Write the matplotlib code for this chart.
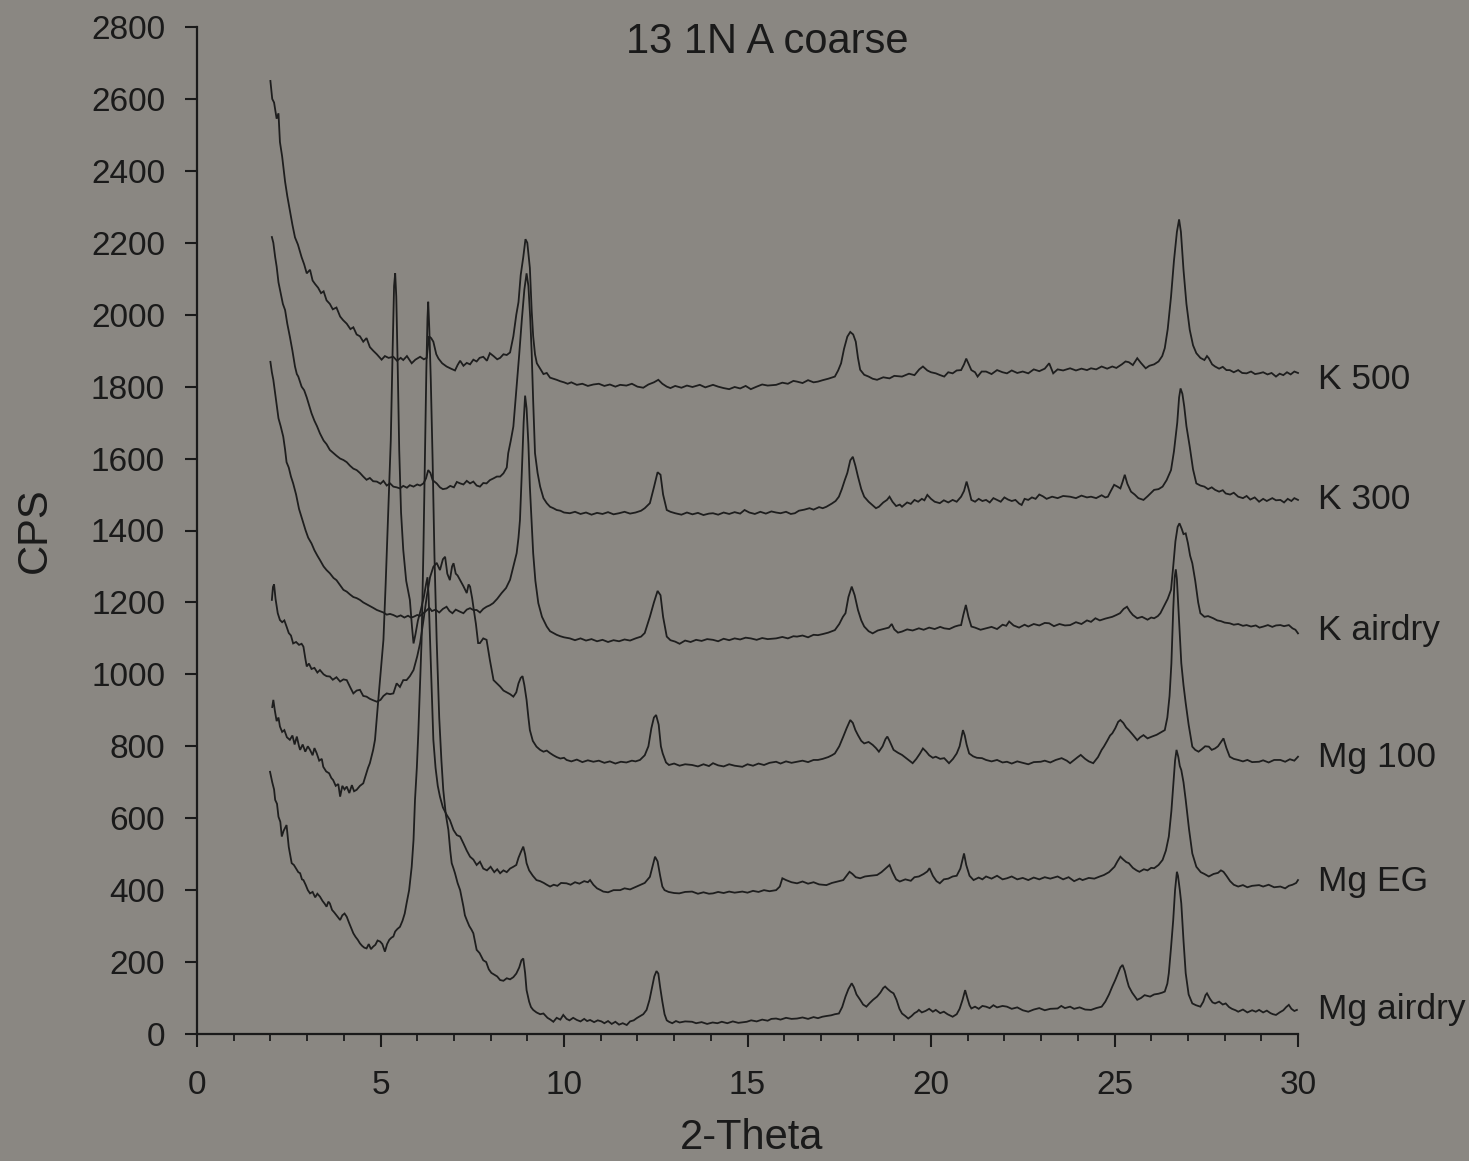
import matplotlib
matplotlib.use("Agg")
import matplotlib.pyplot as plt
from matplotlib.ticker import MultipleLocator

# XRD scans (2-Theta in degrees, intensity in counts per second)
k500 = [
    (2.00, 2650), (2.05, 2600), (2.10, 2590), (2.17, 2545), (2.22, 2560), (2.26, 2480), (2.32, 2440),
    (2.40, 2370), (2.46, 2330), (2.53, 2290), (2.60, 2250), (2.67, 2215), (2.75, 2195), (2.85, 2160),
    (2.92, 2140), (2.99, 2115), (3.08, 2125), (3.15, 2095), (3.22, 2085), (3.30, 2075), (3.38, 2060),
    (3.45, 2065), (3.53, 2040), (3.62, 2030), (3.70, 2015), (3.80, 2020), (3.90, 1995), (3.98, 1985),
    (4.08, 1975), (4.18, 1960), (4.26, 1965), (4.35, 1945), (4.44, 1940), (4.53, 1925), (4.62, 1935),
    (4.71, 1910), (4.80, 1900), (4.90, 1890), (5.03, 1875), (5.12, 1885), (5.22, 1880), (5.35, 1883),
    (5.45, 1872), (5.55, 1880), (5.62, 1874), (5.72, 1885), (5.85, 1865), (5.95, 1875), (6.08, 1883),
    (6.18, 1876), (6.26, 1880), (6.32, 1940), (6.38, 1935), (6.44, 1925), (6.52, 1890), (6.58, 1878),
    (6.68, 1865), (6.80, 1856), (6.92, 1850), (7.03, 1845), (7.10, 1860), (7.17, 1872), (7.26, 1858),
    (7.35, 1866), (7.44, 1862), (7.53, 1875), (7.62, 1870), (7.70, 1880), (7.80, 1883), (7.90, 1872),
    (7.98, 1893), (8.08, 1885), (8.18, 1876), (8.26, 1880), (8.35, 1890), (8.44, 1888), (8.53, 1895),
    (8.62, 1940), (8.70, 2000), (8.76, 2035), (8.82, 2110), (8.89, 2160), (8.95, 2210), (9.00, 2200),
    (9.07, 2130), (9.12, 2010), (9.16, 1940), (9.21, 1890), (9.26, 1865), (9.35, 1850), (9.44, 1835),
    (9.53, 1838), (9.62, 1825), (9.71, 1822), (9.80, 1819), (9.90, 1815), (10.0, 1812), (10.1, 1808),
    (10.2, 1812), (10.35, 1805), (10.5, 1808), (10.65, 1802), (10.8, 1806), (10.95, 1808), (11.1, 1802),
    (11.25, 1806), (11.4, 1800), (11.53, 1805), (11.7, 1803), (11.85, 1808), (12.0, 1800), (12.16, 1797),
    (12.3, 1806), (12.45, 1812), (12.57, 1819), (12.68, 1808), (12.8, 1800), (12.9, 1796), (13.03, 1802),
    (13.2, 1797), (13.35, 1803), (13.5, 1799), (13.7, 1805), (13.85, 1798), (14.06, 1805), (14.2, 1800),
    (14.35, 1796), (14.5, 1793), (14.65, 1799), (14.8, 1795), (14.95, 1802), (15.09, 1793), (15.25, 1800),
    (15.4, 1806), (15.55, 1803), (15.78, 1805), (15.95, 1811), (16.1, 1808), (16.25, 1816), (16.35, 1814),
    (16.5, 1810), (16.65, 1818), (16.8, 1812), (16.92, 1814), (17.05, 1818), (17.2, 1822), (17.38, 1828),
    (17.47, 1845), (17.55, 1865), (17.63, 1905), (17.72, 1939), (17.8, 1952), (17.88, 1945), (17.95, 1925),
    (18.01, 1880), (18.07, 1847), (18.18, 1833), (18.3, 1828), (18.41, 1822), (18.53, 1819), (18.7, 1826),
    (18.87, 1823), (19.0, 1830), (19.21, 1828), (19.4, 1836), (19.55, 1832), (19.68, 1848), (19.78, 1856),
    (19.9, 1845), (20.0, 1840), (20.13, 1837), (20.25, 1832), (20.36, 1828), (20.47, 1840), (20.59, 1837),
    (20.7, 1845), (20.82, 1846), (20.9, 1862), (20.96, 1878), (21.04, 1860), (21.1, 1846), (21.2, 1840),
    (21.27, 1828), (21.38, 1842), (21.5, 1842), (21.65, 1835), (21.8, 1846), (21.95, 1840), (22.07, 1837),
    (22.2, 1845), (22.35, 1838), (22.5, 1842), (22.65, 1837), (22.8, 1848), (22.95, 1843), (23.1, 1850),
    (23.22, 1865), (23.33, 1837), (23.45, 1848), (23.6, 1845), (23.79, 1851), (23.95, 1845), (24.1, 1850),
    (24.25, 1846), (24.36, 1851), (24.5, 1848), (24.65, 1856), (24.8, 1850), (24.94, 1856), (25.05, 1852),
    (25.2, 1862), (25.3, 1870), (25.39, 1868), (25.5, 1860), (25.62, 1879), (25.72, 1866), (25.85, 1851),
    (25.95, 1858), (26.08, 1862), (26.2, 1870), (26.3, 1885), (26.37, 1907), (26.45, 1960), (26.54, 2050),
    (26.62, 2150), (26.7, 2230), (26.76, 2265), (26.81, 2230), (26.88, 2125), (26.96, 2030), (27.05, 1958),
    (27.14, 1915), (27.23, 1893), (27.34, 1880), (27.45, 1874), (27.52, 1885), (27.57, 1879), (27.66, 1862),
    (27.74, 1856), (27.85, 1850), (27.95, 1855), (28.05, 1846), (28.14, 1846), (28.25, 1840), (28.37, 1846),
    (28.48, 1838), (28.6, 1837), (28.72, 1842), (28.83, 1835), (28.94, 1837), (29.05, 1840), (29.17, 1834),
    (29.28, 1838), (29.4, 1828), (29.5, 1836), (29.6, 1832), (29.7, 1840), (29.8, 1834), (29.9, 1842),
    (30.0, 1838),
]

k300 = [
    (2.04, 2216), (2.08, 2200), (2.13, 2160), (2.17, 2134), (2.22, 2090), (2.28, 2060), (2.34, 2030),
    (2.40, 2013), (2.46, 1975), (2.53, 1939), (2.60, 1900), (2.67, 1856), (2.72, 1835), (2.76, 1828),
    (2.85, 1800), (2.92, 1790), (2.99, 1770), (3.05, 1750), (3.12, 1726), (3.2, 1705), (3.27, 1690),
    (3.35, 1670), (3.45, 1650), (3.53, 1640), (3.62, 1624), (3.72, 1615), (3.8, 1608), (3.9, 1600),
    (3.99, 1596), (4.08, 1590), (4.17, 1580), (4.26, 1572), (4.35, 1568), (4.44, 1560), (4.53, 1550),
    (4.62, 1541), (4.71, 1546), (4.8, 1537), (4.9, 1536), (5.0, 1530), (5.08, 1538), (5.17, 1525),
    (5.26, 1531), (5.35, 1522), (5.44, 1520), (5.53, 1517), (5.62, 1524), (5.72, 1519), (5.8, 1526),
    (5.9, 1522), (6.0, 1528), (6.08, 1525), (6.17, 1531), (6.24, 1545), (6.3, 1568), (6.36, 1560),
    (6.42, 1540), (6.53, 1531), (6.62, 1520), (6.7, 1515), (6.8, 1517), (6.9, 1524), (7.0, 1520),
    (7.08, 1535), (7.17, 1531), (7.26, 1528), (7.35, 1538), (7.44, 1531), (7.53, 1536), (7.62, 1525),
    (7.71, 1522), (7.8, 1532), (7.89, 1531), (7.98, 1540), (8.08, 1545), (8.17, 1550), (8.26, 1550),
    (8.35, 1559), (8.44, 1575), (8.48, 1615), (8.55, 1650), (8.62, 1689), (8.71, 1800), (8.78, 1890),
    (8.85, 1985), (8.92, 2070), (8.98, 2115), (9.03, 2080), (9.08, 1990), (9.12, 1893), (9.16, 1760),
    (9.21, 1615), (9.28, 1560), (9.35, 1522), (9.44, 1490), (9.53, 1476), (9.62, 1466), (9.71, 1462),
    (9.8, 1457), (9.9, 1455), (10.0, 1450), (10.16, 1448), (10.3, 1452), (10.45, 1446), (10.6, 1450),
    (10.75, 1444), (10.9, 1449), (11.05, 1446), (11.2, 1451), (11.35, 1445), (11.5, 1448), (11.65, 1452),
    (11.8, 1447), (11.95, 1450), (12.1, 1455), (12.2, 1462), (12.34, 1476), (12.45, 1520), (12.55, 1562),
    (12.63, 1555), (12.7, 1500), (12.8, 1457), (12.9, 1452), (13.03, 1448), (13.2, 1444), (13.35, 1450),
    (13.5, 1445), (13.65, 1449), (13.8, 1443), (13.95, 1447), (14.06, 1448), (14.2, 1444), (14.35, 1450),
    (14.5, 1446), (14.65, 1451), (14.8, 1447), (14.92, 1457), (15.05, 1450), (15.2, 1446), (15.35, 1452),
    (15.5, 1447), (15.65, 1453), (15.78, 1450), (15.9, 1448), (16.05, 1452), (16.18, 1446), (16.29, 1448),
    (16.4, 1455), (16.55, 1458), (16.69, 1462), (16.8, 1458), (16.95, 1465), (17.05, 1462), (17.15, 1466),
    (17.3, 1475), (17.4, 1482), (17.49, 1494), (17.57, 1515), (17.65, 1540), (17.72, 1560), (17.8, 1595),
    (17.87, 1605), (17.94, 1580), (18.01, 1550), (18.1, 1515), (18.18, 1494), (18.3, 1480), (18.41, 1470),
    (18.5, 1462), (18.58, 1466), (18.7, 1478), (18.8, 1485), (18.87, 1494), (18.95, 1480), (19.05, 1468),
    (19.15, 1472), (19.21, 1466), (19.35, 1478), (19.45, 1474), (19.55, 1485), (19.65, 1480), (19.75, 1488),
    (19.82, 1484), (19.9, 1499), (20.0, 1488), (20.1, 1480), (20.24, 1476), (20.35, 1484), (20.47, 1478),
    (20.59, 1485), (20.7, 1480), (20.82, 1494), (20.9, 1510), (20.97, 1536), (21.04, 1510), (21.1, 1485),
    (21.2, 1480), (21.3, 1488), (21.4, 1482), (21.5, 1485), (21.6, 1478), (21.7, 1490), (21.8, 1485),
    (21.9, 1480), (22.0, 1492), (22.1, 1486), (22.2, 1482), (22.3, 1485), (22.4, 1475), (22.47, 1471),
    (22.55, 1488), (22.65, 1485), (22.75, 1492), (22.85, 1488), (22.95, 1500), (23.05, 1495), (23.15, 1488),
    (23.3, 1494), (23.45, 1490), (23.6, 1496), (23.79, 1494), (23.95, 1490), (24.1, 1497), (24.25, 1492),
    (24.36, 1494), (24.5, 1490), (24.65, 1498), (24.75, 1492), (24.82, 1494), (24.9, 1510), (24.99, 1527),
    (25.08, 1522), (25.16, 1517), (25.22, 1535), (25.28, 1555), (25.35, 1530), (25.45, 1508), (25.55, 1500),
    (25.65, 1490), (25.79, 1485), (25.9, 1495), (26.0, 1505), (26.08, 1513), (26.2, 1515), (26.31, 1522),
    (26.42, 1540), (26.54, 1568), (26.62, 1620), (26.71, 1700), (26.76, 1770), (26.8, 1795), (26.85, 1780),
    (26.9, 1745), (26.96, 1690), (27.05, 1633), (27.14, 1570), (27.23, 1531), (27.34, 1525), (27.45, 1522),
    (27.55, 1515), (27.65, 1520), (27.74, 1513), (27.85, 1508), (27.95, 1512), (28.03, 1503), (28.15, 1500),
    (28.25, 1505), (28.37, 1494), (28.5, 1490), (28.6, 1496), (28.7, 1486), (28.82, 1492), (28.94, 1480),
    (29.05, 1488), (29.15, 1482), (29.3, 1490), (29.4, 1484), (29.52, 1485), (29.62, 1478), (29.72, 1488),
    (29.82, 1482), (29.9, 1490), (30.0, 1485),
]

k_airdry = [
    (2.00, 1869), (2.04, 1840), (2.08, 1819), (2.13, 1780), (2.18, 1740), (2.22, 1712), (2.28, 1690),
    (2.35, 1661), (2.40, 1625), (2.44, 1590), (2.5, 1575), (2.56, 1550), (2.62, 1531), (2.7, 1500),
    (2.78, 1460), (2.84, 1440), (2.9, 1420), (2.96, 1400), (3.03, 1380), (3.12, 1364), (3.2, 1345),
    (3.28, 1330), (3.35, 1318), (3.45, 1300), (3.53, 1290), (3.62, 1281), (3.72, 1268), (3.8, 1262),
    (3.9, 1248), (3.99, 1235), (4.08, 1230), (4.17, 1222), (4.26, 1215), (4.35, 1212), (4.44, 1207),
    (4.53, 1200), (4.62, 1195), (4.71, 1190), (4.8, 1185), (4.9, 1179), (5.0, 1175), (5.08, 1172),
    (5.17, 1166), (5.26, 1168), (5.35, 1165), (5.45, 1160), (5.55, 1164), (5.65, 1158), (5.75, 1163),
    (5.83, 1158), (5.9, 1160), (6.0, 1165), (6.08, 1163), (6.17, 1170), (6.26, 1178), (6.33, 1185),
    (6.4, 1176), (6.5, 1180), (6.6, 1172), (6.7, 1182), (6.8, 1188), (6.88, 1176), (6.96, 1170),
    (7.05, 1180), (7.17, 1174), (7.26, 1170), (7.35, 1180), (7.44, 1184), (7.53, 1179), (7.62, 1179),
    (7.71, 1172), (7.8, 1182), (7.89, 1188), (7.98, 1192), (8.07, 1198), (8.18, 1210), (8.3, 1226),
    (8.42, 1240), (8.53, 1263), (8.62, 1300), (8.71, 1337), (8.76, 1380), (8.8, 1429), (8.85, 1560),
    (8.9, 1700), (8.94, 1775), (8.98, 1740), (9.03, 1640), (9.07, 1522), (9.12, 1420), (9.16, 1337),
    (9.22, 1260), (9.3, 1198), (9.4, 1160), (9.53, 1133), (9.62, 1120), (9.71, 1115), (9.8, 1110),
    (9.9, 1106), (10.0, 1103), (10.16, 1100), (10.3, 1095), (10.45, 1100), (10.6, 1094), (10.75, 1098),
    (10.9, 1092), (11.05, 1096), (11.2, 1090), (11.35, 1095), (11.5, 1092), (11.65, 1097), (11.8, 1094),
    (11.95, 1100), (12.1, 1105), (12.2, 1115), (12.34, 1160), (12.45, 1200), (12.55, 1232), (12.63, 1220),
    (12.7, 1160), (12.8, 1105), (12.9, 1095), (13.03, 1091), (13.15, 1085), (13.3, 1094), (13.45, 1090),
    (13.6, 1096), (13.75, 1093), (13.9, 1098), (14.06, 1096), (14.2, 1092), (14.35, 1099), (14.5, 1095),
    (14.65, 1100), (14.8, 1097), (14.95, 1102), (15.09, 1100), (15.25, 1096), (15.4, 1101), (15.55, 1098),
    (15.78, 1100), (15.95, 1104), (16.1, 1100), (16.25, 1106), (16.35, 1105), (16.5, 1108), (16.65, 1103),
    (16.8, 1110), (16.92, 1109), (17.05, 1112), (17.2, 1116), (17.38, 1123), (17.5, 1140), (17.6, 1160),
    (17.67, 1170), (17.75, 1215), (17.84, 1244), (17.92, 1220), (18.01, 1179), (18.1, 1150), (18.18, 1133),
    (18.3, 1120), (18.41, 1114), (18.55, 1122), (18.7, 1126), (18.85, 1130), (18.93, 1140), (19.0, 1125),
    (19.1, 1116), (19.21, 1119), (19.35, 1125), (19.5, 1122), (19.67, 1128), (19.8, 1124), (19.95, 1130),
    (20.1, 1126), (20.25, 1132), (20.36, 1128), (20.5, 1126), (20.65, 1133), (20.75, 1136), (20.82, 1137),
    (20.88, 1165), (20.95, 1193), (21.02, 1160), (21.1, 1133), (21.2, 1130), (21.35, 1124), (21.5, 1128),
    (21.65, 1132), (21.8, 1126), (21.95, 1138), (22.05, 1135), (22.13, 1147), (22.25, 1136), (22.4, 1130),
    (22.55, 1138), (22.65, 1133), (22.8, 1140), (22.95, 1136), (23.1, 1143), (23.22, 1142), (23.35, 1134),
    (23.5, 1140), (23.65, 1136), (23.79, 1137), (23.95, 1145), (24.1, 1140), (24.25, 1150), (24.36, 1146),
    (24.48, 1156), (24.6, 1150), (24.75, 1155), (24.94, 1160), (25.05, 1165), (25.15, 1170), (25.25, 1182),
    (25.34, 1188), (25.42, 1175), (25.5, 1165), (25.62, 1156), (25.75, 1160), (25.9, 1152), (26.0, 1158),
    (26.08, 1156), (26.18, 1162), (26.25, 1170), (26.35, 1190), (26.45, 1210), (26.54, 1235), (26.6, 1300),
    (26.66, 1370), (26.72, 1410), (26.77, 1420), (26.83, 1405), (26.88, 1390), (26.94, 1392), (27.0, 1365),
    (27.06, 1330), (27.12, 1309), (27.2, 1260), (27.28, 1200), (27.34, 1170), (27.45, 1160), (27.55, 1162),
    (27.69, 1156), (27.8, 1150), (27.9, 1148), (28.0, 1144), (28.14, 1142), (28.25, 1138), (28.37, 1140),
    (28.5, 1135), (28.6, 1137), (28.72, 1133), (28.85, 1136), (28.95, 1130), (29.06, 1133), (29.18, 1137),
    (29.3, 1132), (29.4, 1136), (29.52, 1137), (29.62, 1134), (29.75, 1137), (29.85, 1128), (29.93, 1124),
    (30.0, 1114),
]

mg100 = [
    (2.04, 1207), (2.07, 1243), (2.10, 1250), (2.14, 1210), (2.2, 1170), (2.26, 1151), (2.32, 1145),
    (2.38, 1150), (2.44, 1133), (2.5, 1115), (2.56, 1108), (2.62, 1086), (2.7, 1090), (2.78, 1082),
    (2.85, 1085), (2.9, 1077), (2.95, 1045), (2.99, 1022), (3.05, 1030), (3.12, 1015), (3.2, 1018),
    (3.28, 1005), (3.35, 1012), (3.45, 1000), (3.53, 995), (3.62, 994), (3.7, 985), (3.8, 992),
    (3.9, 980), (3.99, 986), (4.08, 984), (4.17, 965), (4.26, 947), (4.35, 955), (4.44, 957),
    (4.53, 940), (4.62, 938), (4.71, 932), (4.8, 928), (4.9, 924), (5.0, 929), (5.08, 940),
    (5.17, 947), (5.26, 945), (5.35, 947), (5.44, 975), (5.53, 965), (5.62, 984), (5.71, 984),
    (5.8, 995), (5.9, 1012), (6.0, 1050), (6.08, 1087), (6.17, 1150), (6.26, 1216), (6.35, 1270),
    (6.44, 1299), (6.53, 1310), (6.62, 1290), (6.7, 1320), (6.76, 1327), (6.82, 1280), (6.89, 1262),
    (6.95, 1300), (6.99, 1309), (7.05, 1280), (7.1, 1275), (7.17, 1262), (7.26, 1245), (7.35, 1226),
    (7.4, 1250), (7.44, 1244), (7.5, 1210), (7.53, 1188), (7.6, 1140), (7.66, 1087), (7.71, 1087),
    (7.8, 1100), (7.89, 1096), (7.98, 1040), (8.08, 984), (8.17, 975), (8.26, 966), (8.35, 955),
    (8.44, 950), (8.53, 945), (8.62, 938), (8.7, 950), (8.76, 975), (8.82, 990), (8.87, 995),
    (8.92, 970), (8.98, 929), (9.03, 880), (9.07, 845), (9.15, 815), (9.25, 799), (9.35, 790),
    (9.44, 785), (9.53, 788), (9.62, 781), (9.71, 775), (9.8, 770), (9.9, 766), (10.0, 768),
    (10.07, 762), (10.2, 758), (10.35, 763), (10.5, 756), (10.65, 761), (10.8, 757), (10.95, 760),
    (11.1, 754), (11.25, 758), (11.4, 752), (11.55, 757), (11.7, 755), (11.85, 760), (11.95, 758),
    (12.07, 762), (12.2, 775), (12.3, 800), (12.38, 850), (12.45, 880), (12.51, 887), (12.58, 860),
    (12.64, 800), (12.69, 780), (12.78, 755), (12.86, 748), (13.0, 752), (13.15, 746), (13.3, 750),
    (13.49, 748), (13.65, 744), (13.8, 750), (13.95, 745), (14.06, 753), (14.2, 747), (14.35, 744),
    (14.5, 750), (14.65, 746), (14.86, 743), (15.0, 750), (15.15, 746), (15.3, 752), (15.45, 748),
    (15.6, 754), (15.78, 757), (15.9, 752), (16.05, 758), (16.2, 754), (16.35, 757), (16.5, 760),
    (16.65, 756), (16.8, 762), (16.92, 762), (17.05, 765), (17.2, 770), (17.3, 775), (17.38, 780),
    (17.5, 800), (17.61, 827), (17.7, 850), (17.8, 873), (17.87, 865), (17.94, 845), (18.01, 831),
    (18.1, 815), (18.18, 808), (18.3, 812), (18.41, 804), (18.5, 795), (18.58, 785), (18.68, 800),
    (18.76, 820), (18.81, 827), (18.87, 815), (18.98, 790), (19.1, 782), (19.21, 776), (19.35, 765),
    (19.5, 753), (19.6, 765), (19.7, 780), (19.78, 794), (19.87, 785), (19.95, 775), (20.05, 768),
    (20.13, 771), (20.25, 765), (20.36, 767), (20.49, 753), (20.6, 765), (20.7, 780), (20.78, 800),
    (20.84, 830), (20.87, 845), (20.92, 830), (20.97, 805), (21.04, 780), (21.15, 772), (21.25, 768),
    (21.39, 767), (21.5, 762), (21.65, 758), (21.8, 762), (21.95, 755), (22.07, 757), (22.2, 752),
    (22.35, 758), (22.5, 754), (22.65, 750), (22.8, 756), (22.99, 757), (23.1, 760), (23.25, 755),
    (23.4, 762), (23.56, 767), (23.7, 760), (23.79, 753), (23.9, 762), (24.0, 770), (24.08, 776),
    (24.2, 765), (24.3, 758), (24.42, 753), (24.55, 770), (24.65, 790), (24.71, 799), (24.8, 815),
    (24.88, 830), (24.94, 836), (25.02, 850), (25.1, 868), (25.16, 873), (25.24, 865), (25.32, 852),
    (25.39, 845), (25.5, 832), (25.62, 817), (25.7, 825), (25.79, 831), (25.9, 822), (26.02, 827),
    (26.15, 832), (26.25, 838), (26.37, 845), (26.44, 880), (26.5, 940), (26.55, 1030), (26.6, 1180),
    (26.64, 1270), (26.67, 1292), (26.7, 1265), (26.74, 1185), (26.78, 1100), (26.82, 1031), (26.88, 970),
    (26.94, 920), (27.02, 860), (27.12, 799), (27.2, 790), (27.29, 785), (27.38, 792), (27.47, 800),
    (27.57, 799), (27.65, 790), (27.74, 794), (27.82, 800), (27.9, 812), (27.97, 822), (28.05, 795),
    (28.14, 771), (28.25, 765), (28.37, 762), (28.5, 758), (28.62, 762), (28.75, 756), (28.94, 757),
    (29.05, 761), (29.2, 755), (29.35, 762), (29.52, 762), (29.65, 757), (29.78, 764), (29.9, 760),
    (30.0, 771),
]

mg_eg = [
    (2.05, 909), (2.08, 929), (2.12, 900), (2.17, 870), (2.22, 880), (2.26, 855), (2.32, 840),
    (2.38, 845), (2.45, 825), (2.53, 818), (2.6, 830), (2.66, 805), (2.72, 827), (2.78, 800),
    (2.81, 790), (2.88, 805), (2.95, 785), (3.02, 800), (3.08, 790), (3.15, 775), (3.2, 795),
    (3.26, 781), (3.33, 760), (3.4, 765), (3.44, 743), (3.52, 730), (3.6, 725), (3.66, 712),
    (3.71, 706), (3.78, 690), (3.85, 695), (3.9, 660), (3.96, 690), (4.02, 680), (4.08, 688),
    (4.15, 670), (4.22, 692), (4.28, 675), (4.35, 679), (4.44, 690), (4.53, 697), (4.6, 720),
    (4.66, 740), (4.71, 753), (4.8, 790), (4.85, 818), (4.9, 880), (4.94, 929), (5.0, 1000),
    (5.08, 1096), (5.14, 1250), (5.2, 1420), (5.25, 1560), (5.28, 1650), (5.33, 1900), (5.37, 2080),
    (5.40, 2115), (5.43, 2050), (5.47, 1850), (5.51, 1624), (5.56, 1450), (5.62, 1346), (5.7, 1260),
    (5.8, 1207), (5.86, 1130), (5.9, 1086), (5.95, 1110), (6.02, 1150), (6.1, 1180), (6.18, 1215),
    (6.24, 1250), (6.28, 1270), (6.31, 1220), (6.35, 1096), (6.4, 940), (6.44, 818), (6.5, 740),
    (6.56, 690), (6.62, 660), (6.7, 630), (6.8, 610), (6.89, 595), (6.99, 567), (7.08, 553),
    (7.17, 549), (7.26, 530), (7.35, 510), (7.44, 493), (7.53, 485), (7.62, 470), (7.71, 479),
    (7.8, 460), (7.9, 455), (8.0, 465), (8.1, 450), (8.18, 458), (8.26, 447), (8.35, 455),
    (8.44, 450), (8.53, 460), (8.62, 465), (8.7, 470), (8.76, 490), (8.82, 505), (8.89, 521),
    (8.94, 500), (8.98, 475), (9.05, 455), (9.15, 440), (9.25, 428), (9.35, 425), (9.45, 420),
    (9.53, 415), (9.62, 410), (9.72, 415), (9.82, 412), (9.92, 420), (10.07, 419), (10.18, 415),
    (10.3, 422), (10.42, 418), (10.55, 425), (10.65, 422), (10.71, 428), (10.8, 415), (10.9, 405),
    (11.0, 400), (11.07, 396), (11.2, 394), (11.35, 400), (11.53, 400), (11.65, 405), (11.8, 402),
    (11.98, 410), (12.1, 415), (12.2, 420), (12.34, 437), (12.41, 465), (12.48, 493), (12.55, 480),
    (12.62, 440), (12.68, 410), (12.74, 400), (12.85, 395), (13.0, 392), (13.14, 391), (13.3, 395),
    (13.49, 396), (13.65, 390), (13.8, 394), (13.95, 390), (14.06, 391), (14.2, 395), (14.35, 392),
    (14.5, 396), (14.65, 393), (14.86, 396), (15.0, 393), (15.15, 398), (15.3, 395), (15.45, 400),
    (15.6, 397), (15.78, 400), (15.88, 410), (15.95, 433), (16.05, 428), (16.2, 422), (16.35, 419),
    (16.5, 424), (16.65, 418), (16.8, 422), (16.95, 416), (17.15, 414), (17.3, 420), (17.45, 424),
    (17.61, 428), (17.7, 440), (17.78, 451), (17.86, 445), (17.95, 436), (18.07, 433), (18.2, 438),
    (18.35, 440), (18.53, 442), (18.65, 450), (18.78, 462), (18.87, 470), (18.95, 450), (19.05, 430),
    (19.15, 424), (19.3, 430), (19.45, 426), (19.55, 436), (19.67, 438), (19.8, 445), (19.9, 452),
    (19.96, 461), (20.05, 440), (20.15, 425), (20.24, 419), (20.35, 430), (20.47, 432), (20.59, 438),
    (20.7, 440), (20.8, 460), (20.86, 485), (20.9, 502), (20.96, 470), (21.05, 440), (21.16, 428),
    (21.3, 435), (21.4, 430), (21.5, 438), (21.65, 432), (21.8, 440), (21.95, 430), (22.07, 433),
    (22.2, 438), (22.35, 430), (22.5, 434), (22.65, 428), (22.8, 435), (22.95, 430), (23.1, 436),
    (23.25, 432), (23.45, 438), (23.6, 430), (23.75, 436), (23.9, 425), (24.05, 432), (24.13, 428),
    (24.3, 434), (24.45, 432), (24.6, 438), (24.71, 442), (24.85, 450), (25.0, 465), (25.08, 480),
    (25.16, 493), (25.24, 485), (25.32, 478), (25.39, 475), (25.5, 462), (25.6, 455), (25.68, 451),
    (25.8, 458), (25.9, 455), (26.0, 462), (26.08, 461), (26.2, 470), (26.31, 484), (26.4, 510),
    (26.48, 549), (26.55, 620), (26.6, 688), (26.65, 760), (26.69, 790), (26.74, 770), (26.78, 745),
    (26.82, 734), (26.88, 700), (26.94, 651), (27.03, 570), (27.12, 502), (27.23, 465), (27.35, 450),
    (27.45, 445), (27.57, 438), (27.7, 445), (27.82, 448), (27.9, 455), (27.97, 451), (28.05, 440),
    (28.15, 425), (28.25, 415), (28.37, 410), (28.5, 414), (28.62, 408), (28.75, 412), (28.94, 414),
    (29.05, 410), (29.2, 415), (29.35, 408), (29.52, 410), (29.65, 405), (29.75, 412), (29.85, 415),
    (29.95, 420), (30.0, 428),
]

mg_airdry = [
    (1.99, 729), (2.05, 700), (2.1, 680), (2.13, 651), (2.18, 640), (2.22, 604), (2.27, 590),
    (2.31, 549), (2.36, 565), (2.44, 581), (2.5, 520), (2.58, 475), (2.64, 470), (2.7, 460),
    (2.76, 450), (2.81, 447), (2.86, 430), (2.9, 428), (2.96, 415), (3.02, 400), (3.08, 391),
    (3.15, 395), (3.22, 380), (3.28, 390), (3.35, 382), (3.42, 370), (3.48, 362), (3.53, 354),
    (3.58, 368), (3.62, 363), (3.68, 345), (3.74, 338), (3.8, 330), (3.86, 322), (3.9, 317),
    (3.96, 330), (4.02, 335), (4.08, 326), (4.14, 310), (4.2, 295), (4.26, 280), (4.32, 270),
    (4.38, 262), (4.44, 252), (4.5, 245), (4.56, 240), (4.62, 238), (4.68, 250), (4.74, 236),
    (4.8, 243), (4.86, 248), (4.92, 260), (4.99, 257), (5.05, 250), (5.12, 229), (5.18, 250),
    (5.24, 262), (5.3, 268), (5.35, 271), (5.4, 285), (5.46, 292), (5.53, 298), (5.6, 315),
    (5.66, 335), (5.71, 363), (5.78, 400), (5.85, 465), (5.9, 540), (5.94, 651), (5.99, 740),
    (6.03, 836), (6.08, 980), (6.12, 1096), (6.17, 1350), (6.21, 1600), (6.25, 1850), (6.28, 1990),
    (6.30, 2036), (6.33, 1960), (6.37, 1820), (6.42, 1596), (6.47, 1330), (6.53, 1096), (6.6, 880),
    (6.66, 760), (6.71, 679), (6.78, 610), (6.85, 567), (6.9, 510), (6.94, 475), (6.99, 460),
    (7.03, 447), (7.1, 420), (7.17, 400), (7.21, 380), (7.26, 354), (7.3, 330), (7.35, 317),
    (7.42, 300), (7.48, 290), (7.53, 280), (7.58, 255), (7.62, 234), (7.7, 225), (7.8, 205),
    (7.88, 200), (7.95, 180), (8.02, 170), (8.1, 165), (8.18, 160), (8.26, 150), (8.35, 148),
    (8.44, 155), (8.53, 152), (8.62, 158), (8.7, 168), (8.78, 185), (8.84, 205), (8.89, 210),
    (8.94, 170), (8.98, 122), (9.05, 90), (9.1, 75), (9.16, 67), (9.25, 60), (9.35, 55),
    (9.44, 57), (9.55, 45), (9.63, 40), (9.71, 34), (9.8, 45), (9.9, 40), (9.98, 53),
    (10.07, 42), (10.15, 38), (10.25, 45), (10.35, 39), (10.45, 35), (10.55, 42), (10.63, 36),
    (10.71, 39), (10.82, 33), (10.92, 38), (11.02, 35), (11.1, 30), (11.2, 36), (11.3, 28),
    (11.4, 34), (11.5, 26), (11.6, 30), (11.71, 25), (11.8, 35), (11.9, 38), (11.98, 44),
    (12.08, 50), (12.16, 55), (12.25, 67), (12.33, 95), (12.4, 130), (12.46, 160), (12.52, 175),
    (12.57, 168), (12.62, 130), (12.68, 90), (12.74, 55), (12.8, 38), (12.86, 34), (12.95, 30),
    (13.05, 36), (13.15, 32), (13.3, 35), (13.49, 34), (13.6, 30), (13.75, 33), (13.9, 28),
    (14.05, 32), (14.18, 30), (14.3, 34), (14.45, 30), (14.6, 35), (14.75, 31), (14.98, 34),
    (15.1, 38), (15.25, 35), (15.4, 40), (15.55, 37), (15.65, 42), (15.78, 43), (15.9, 40),
    (16.05, 45), (16.2, 42), (16.35, 43), (16.5, 46), (16.65, 42), (16.8, 47), (16.92, 44),
    (17.04, 48), (17.15, 50), (17.28, 52), (17.38, 55), (17.49, 57), (17.58, 75), (17.67, 104),
    (17.75, 125), (17.84, 141), (17.9, 130), (17.97, 110), (18.07, 95), (18.15, 82), (18.24, 76),
    (18.32, 85), (18.42, 95), (18.53, 104), (18.62, 115), (18.7, 128), (18.75, 132), (18.82, 125),
    (18.9, 118), (18.98, 113), (19.06, 95), (19.14, 70), (19.21, 57), (19.3, 50), (19.38, 43),
    (19.47, 50), (19.55, 58), (19.62, 62), (19.67, 67), (19.75, 60), (19.85, 64), (19.95, 70),
    (20.05, 62), (20.13, 67), (20.25, 58), (20.35, 62), (20.45, 55), (20.59, 48), (20.7, 55),
    (20.78, 70), (20.86, 95), (20.93, 122), (20.99, 100), (21.05, 80), (21.1, 71), (21.2, 76),
    (21.3, 70), (21.4, 78), (21.5, 76), (21.6, 72), (21.7, 80), (21.8, 74), (21.95, 78),
    (22.07, 76), (22.2, 70), (22.35, 74), (22.5, 66), (22.65, 62), (22.8, 68), (22.95, 72),
    (23.1, 66), (23.25, 70), (23.45, 71), (23.55, 78), (23.65, 72), (23.79, 76), (23.9, 70),
    (24.05, 74), (24.2, 68), (24.36, 67), (24.5, 72), (24.65, 76), (24.75, 90), (24.85, 110),
    (24.94, 132), (25.02, 150), (25.1, 170), (25.16, 185), (25.22, 192), (25.28, 175), (25.34, 150),
    (25.39, 132), (25.48, 115), (25.55, 105), (25.62, 95), (25.72, 100), (25.82, 108), (25.97, 104),
    (26.08, 110), (26.2, 112), (26.3, 115), (26.37, 118), (26.44, 140), (26.48, 169), (26.54, 240),
    (26.6, 317), (26.65, 400), (26.7, 451), (26.73, 440), (26.78, 400), (26.82, 363), (26.88, 260),
    (26.94, 169), (27.02, 110), (27.12, 85), (27.22, 80), (27.34, 76), (27.42, 90), (27.48, 108),
    (27.52, 113), (27.6, 98), (27.67, 88), (27.74, 85), (27.85, 90), (27.95, 82), (28.03, 85),
    (28.12, 75), (28.2, 70), (28.3, 66), (28.37, 62), (28.5, 68), (28.62, 60), (28.75, 66),
    (28.85, 62), (28.94, 67), (29.05, 60), (29.15, 65), (29.25, 58), (29.32, 55), (29.4, 53),
    (29.5, 60), (29.6, 66), (29.68, 75), (29.75, 81), (29.82, 70), (29.9, 64), (29.97, 67),
]

series = [k500, k300, k_airdry, mg100, mg_eg, mg_airdry]
series_names = ["K 500", "K 300", "K airdry", "Mg 100", "Mg EG", "Mg airdry"]
name_heights = [1819, 1485, 1123, 770, 423, 67]

x_ticks = [0, 5, 10, 15, 20, 25, 30]
y_ticks = list(range(0, 2801, 200))

BG = "#8a8782"
INK = "#1a1a1a"
plt.rcParams["font.family"] = ["Liberation Sans", "DejaVu Sans"]

fig = plt.figure(figsize=(14.69, 11.61), dpi=100, facecolor=BG)
ax = fig.add_axes([197 / 1469, 1 - 1034 / 1161, (1298 - 197) / 1469, (1034 - 27) / 1161])
ax.set_facecolor(BG)

for pts in series:
    xs = [p[0] for p in pts]
    ys = [p[1] for p in pts]
    ax.plot(xs, ys, color="#1e1e1e", lw=1.3, solid_joinstyle="miter", clip_on=False)

for name, yh in zip(series_names, name_heights):
    ax.text(30.55, yh, name, fontsize=25.5, color=INK, ha="left", va="center")

ax.text(15.55, 2759, "13 1N A coarse", fontsize=30, color=INK, ha="center", va="center")

ax.set_xlim(0, 30)
ax.set_ylim(0, 2800)
ax.set_xticks(x_ticks)
ax.set_yticks(y_ticks)
ax.xaxis.set_minor_locator(MultipleLocator(1))
for side in ("top", "right"):
    ax.spines[side].set_visible(False)
for side in ("left", "bottom"):
    ax.spines[side].set_linewidth(1.6)
    ax.spines[side].set_color(INK)

ax.tick_params(axis="both", which="major", direction="out", length=9, width=1.5,
               colors=INK, labelsize=24)
ax.tick_params(axis="x", which="major", pad=17)
ax.tick_params(axis="y", which="major", pad=14)
ax.tick_params(axis="x", which="minor", direction="out", length=5, width=1.3, colors=INK)

ax.set_xlabel("2-Theta", fontsize=30, color=INK)
ax.set_ylabel("CPS", fontsize=30, color=INK)
ax.xaxis.set_label_coords(0.504, -0.1033)
ax.yaxis.set_label_coords(-0.147, 0.5)
ax.xaxis.label.set_va("center")
ax.yaxis.label.set_va("center")

fig.savefig("out.png", dpi=100, facecolor=BG)
